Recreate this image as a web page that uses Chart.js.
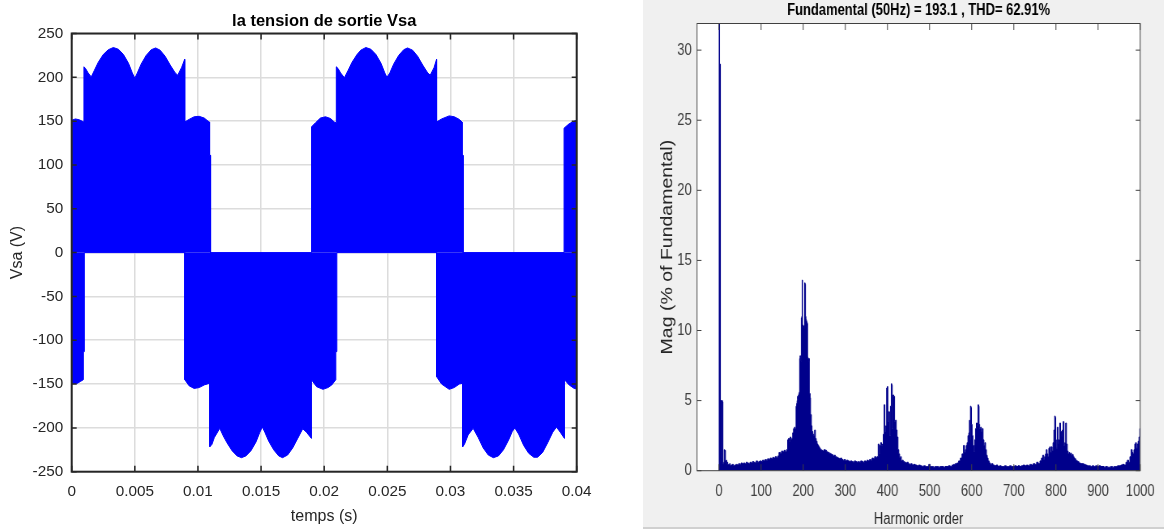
<!DOCTYPE html>
<html><head><meta charset="utf-8">
<script src="https://cdn.jsdelivr.net/npm/chart.js@4.4.1/dist/chart.umd.min.js"></script>
<style>
html,body{margin:0;padding:0;background:#fff;width:1164px;height:529px;overflow:hidden;}
#c1{position:absolute;left:0;top:0;}
#wrap2{position:absolute;left:643px;top:0;width:521px;height:529px;background:#f0f0f0;overflow:hidden;}
#c2{position:absolute;left:0;top:0;transform:scaleX(0.81);transform-origin:0 0;}
</style></head><body>
<canvas id="c1" width="620" height="529"></canvas>
<div id="wrap2"><canvas id="c2" width="643" height="529"></canvas></div>
<script>
// ---------- Left chart data: output voltage Vsa envelope ----------
const timeTicks = [0, 0.005, 0.01, 0.015, 0.02, 0.025, 0.03, 0.035, 0.04];
const timeTickLabels = ['0', '0.005', '0.01', '0.015', '0.02', '0.025', '0.03', '0.035', '0.04'];
const voltTicks = [-250, -200, -150, -100, -50, 0, 50, 100, 150, 200, 250];

// upper (positive) envelope
const tUp = [
  0, 0.0003, 0.0006, 0.00097, 0.00097, 0.0011, 0.0013, 0.00155, 0.0018, 0.0021,
  0.0025, 0.0029, 0.0033, 0.0037, 0.0041, 0.0045, 0.0048, 0.0050, 0.0052, 0.0055,
  0.0059, 0.0063, 0.00665, 0.0070, 0.0074, 0.0078, 0.0082, 0.0084, 0.0087, 0.00895,
  0.00895, 0.0093, 0.0097, 0.0101, 0.0105, 0.0108, 0.01092, 0.01092, 0.0110, 0.0110,
  0.0190, 0.0190, 0.0193, 0.0197, 0.0201, 0.0205, 0.0208, 0.02096, 0.02096, 0.0211,
  0.0213, 0.0216, 0.0219, 0.0222, 0.0226, 0.0229, 0.0233, 0.0237, 0.0241, 0.0245,
  0.0248, 0.02497, 0.0252, 0.0255, 0.0259, 0.0263, 0.0266, 0.0270, 0.0274, 0.0278,
  0.0282, 0.0284, 0.0287, 0.0289, 0.0289, 0.0293, 0.0299, 0.0303, 0.0307, 0.03092,
  0.03092, 0.0310, 0.0310, 0.0390, 0.0390, 0.0394, 0.0398, 0.0400
];
const vUp = [
  151, 152.5, 151.5, 149, 212, 210, 205, 200.5, 208, 217,
  226, 231.5, 234, 232, 226, 216, 205, 199, 205, 215,
  225, 231.5, 233.5, 231, 224, 214, 205, 202.5, 211, 220.5,
  149, 152, 155, 155.5, 153.5, 150, 149, 111, 111, 0,
  0, 143.5, 148, 153.5, 155, 153, 149, 148, 212, 210,
  205, 199.5, 208, 217, 226, 231, 234, 232, 226, 216,
  205, 200, 205, 215, 225, 231.5, 233.5, 231, 224, 214,
  205, 202.5, 211, 220.5, 149, 152.5, 156, 155, 152, 149,
  111, 111, 0, 0, 142, 147, 150, 151
];
// lower (negative) envelope
const tLo = [
  0, 0.0004, 0.0007, 0.00092, 0.00092, 0.0010, 0.0010, 0.00896, 0.00896, 0.0093,
  0.0097, 0.0101, 0.0105, 0.01094, 0.01094, 0.0111, 0.0113, 0.01173, 0.0120, 0.0123,
  0.0127, 0.0131, 0.01345, 0.0138, 0.0142, 0.0146, 0.0149, 0.0151, 0.0153, 0.0156,
  0.0160, 0.0164, 0.0167, 0.0171, 0.0175, 0.0179, 0.0183, 0.0186, 0.01899, 0.01899,
  0.0194, 0.0199, 0.0203, 0.0206, 0.02092, 0.02092, 0.0210, 0.0210, 0.0289, 0.0289,
  0.0293, 0.0299, 0.0303, 0.0307, 0.03097, 0.03097, 0.0311, 0.0314, 0.0318, 0.0322,
  0.0326, 0.0330, 0.0334, 0.0338, 0.0342, 0.0346, 0.0349, 0.0351, 0.0354, 0.0358,
  0.0362, 0.0366, 0.0369, 0.0373, 0.0377, 0.0381, 0.0384, 0.0387, 0.03903, 0.03903,
  0.0394, 0.0398, 0.0400
];
const vLo = [
  -149, -149.5, -147, -145, -113, -113, 0, 0, -145, -152,
  -155, -154, -151, -149, -221.5, -219, -211, -200.5, -209, -217,
  -226, -232, -234, -232, -226, -216, -205, -199, -205, -215,
  -225, -232, -234, -231, -223, -212, -201, -205, -212, -145,
  -153, -156, -154, -151, -145, -113, -113, 0, 0, -141.5,
  -150, -156, -154, -150, -149, -221.5, -219, -208, -200.5, -211,
  -223, -231, -234, -232, -225, -214, -204, -200, -207, -220,
  -229, -233.5, -233.5, -228, -217, -205, -199, -205, -212, -145,
  -151, -155, -155.5
];

// ---------- Right chart data: harmonic spectrum (% of fundamental) ----------
const harmonicTicks = [0, 100, 200, 300, 400, 500, 600, 700, 800, 900, 1000];
const magTicks = [0, 5, 10, 15, 20, 25, 30];
const harmonicOrder = [
  0,1,2,3,4,5,6,7,8,9,
  10,11,12,13,14,15,16,17,18,19,
  20,22,24,26,28,30,33,36,39,42,
  45,48,51,54,57,60,63,66,69,72,
  75,78,81,84,87,90,93,96,99,102,
  105,108,111,114,117,120,123,126,129,132,
  135,138,141,144,147,150,153,156,159,162,
  164,166,168,170,172,174,176,178,180,182,
  184,185,186,187,188,189,190,191,192,193,
  194,195,196,197,198,199,200,201,202,203,
  204,205,206,207,208,209,210,211,212,213,
  214,215,216,217,218,219,220,222,224,226,
  228,230,232,234,236,238,240,242,245,248,
  251,254,257,260,263,266,269,272,275,278,
  281,284,287,290,293,296,299,302,305,308,
  311,314,317,320,323,326,329,332,335,338,
  341,344,347,350,353,356,359,362,365,368,
  371,374,377,379,381,383,385,387,389,391,
  393,395,397,399,400,402,404,406,408,410,
  411,412,414,416,418,420,422,424,426,428,
  430,432,434,436,439,442,445,448,451,454,
  457,460,464,468,472,476,480,484,488,492,
  496,500,503,507,511,515,519,523,527,531,
  535,539,543,547,551,555,559,563,567,571,
  575,579,582,584,586,588,590,592,594,595,
  596,598,599,600,602,604,606,608,610,612,
  614,616,617,618,620,622,624,626,628,630,
  632,634,636,638,640,643,646,649,652,656,
  660,664,668,672,676,680,684,688,692,696,
  700,704,708,712,716,720,724,728,732,736,
  740,744,748,752,756,760,764,767,770,772,
  774,776,778,780,782,784,786,788,790,792,
  794,796,798,799,800,802,804,806,808,810,
  812,814,816,818,820,822,824,826,828,830,
  832,834,836,838,840,842,844,846,848,850,
  853,856,860,864,868,872,876,880,884,888,
  892,896,900,904,908,912,916,920,924,928,
  932,936,940,944,948,952,956,960,964,968,
  971,974,977,980,982,984,986,988,990,992,
  994,996,998,1000
];
const magnitude = [
  0,100,0.6,29,0.9,5.0,5.0,4.9,5.0,4.9,
  0.5,0.4,0.6,1.5,1.4,1.45,0.7,0.6,0.75,0.5,
  0.6,0.45,0.4,0.5,0.35,0.4,0.45,0.35,0.4,0.45,
  0.4,0.5,0.45,0.55,0.5,0.55,0.5,0.6,0.55,0.5,
  0.6,0.55,0.65,0.6,0.55,0.7,0.6,0.65,0.7,0.65,
  0.75,0.7,0.8,0.75,0.85,0.8,0.9,0.85,0.95,0.9,
  1.0,0.95,1.05,1.3,1.25,1.4,1.35,1.45,1.35,1.5,
  2.2,2.3,2.1,2.4,2.2,2.3,2.7,3.0,3.1,3.0,
  4.6,4.8,5.0,5.3,5.1,5.4,5.5,5.6,8.0,8.2,
  8.1,7.8,10.9,11.0,13.6,10.4,10.2,10.3,10.1,10.4,
  13.4,13.3,11.0,10.8,10.7,10.6,10.5,8.1,8.0,7.8,
  8.0,5.4,5.5,5.2,3.9,4.0,3.2,2.8,2.6,2.5,
  2.9,2.3,2.1,1.9,1.8,1.7,1.6,1.5,1.45,1.4,
  1.5,1.45,1.35,1.3,1.25,1.2,1.15,1.05,1.1,1.0,
  0.95,0.9,0.85,0.9,0.8,0.75,0.8,0.7,0.75,0.7,
  0.65,0.7,0.65,0.6,0.7,0.65,0.6,0.65,0.6,0.7,
  0.65,0.6,0.7,0.65,0.75,0.7,0.8,0.75,0.9,0.85,
  1.0,0.95,1.0,1.9,1.2,1.8,2.0,1.8,1.9,2.6,
  4.7,2.8,3.2,5.9,6.0,3.5,4.2,2.5,4.6,6.2,
  6.1,3.0,5.4,5.3,3.5,3.6,2.9,2.4,1.5,1.2,
  0.9,1.0,0.7,0.75,0.65,0.6,0.55,0.6,0.5,0.45,
  0.5,0.4,0.45,0.4,0.35,0.4,0.35,0.3,0.35,0.3,
  0.3,0.45,0.3,0.3,0.25,0.3,0.3,0.25,0.3,0.3,
  0.25,0.3,0.3,0.35,0.3,0.4,0.45,0.5,0.55,0.7,
  0.9,1.2,1.8,1.3,1.5,1.8,2.0,2.5,2.7,3.6,
  2.2,4.6,4.5,3.3,2.5,1.8,1.35,2.2,3.0,3.4,
  3.2,4.7,4.6,3.3,3.0,3.1,2.8,3.0,2.2,1.8,
  2.0,1.5,1.1,0.9,0.7,0.55,0.45,0.5,0.4,0.35,
  0.4,0.3,0.35,0.3,0.3,0.35,0.3,0.3,0.35,0.3,
  0.3,0.35,0.3,0.35,0.3,0.35,0.4,0.35,0.4,0.35,
  0.45,0.4,0.5,0.45,0.6,0.5,0.7,0.9,1.1,0.8,
  1.0,1.2,1.5,1.2,1.0,1.6,1.7,1.3,1.7,1.4,
  2.0,2.9,3.9,3.8,2.2,1.6,3.1,1.9,2.2,3.4,
  2.8,2.4,2.9,3.5,1.8,2.0,3.4,1.9,1.4,1.2,
  1.3,1.2,1.25,1.1,1.15,1.0,0.9,0.85,0.75,0.7,
  0.65,0.55,0.5,0.5,0.45,0.4,0.35,0.35,0.3,0.35,
  0.3,0.35,0.3,0.35,0.3,0.3,0.25,0.3,0.25,0.25,
  0.3,0.25,0.3,0.3,0.35,0.35,0.4,0.45,0.4,0.6,
  0.75,0.6,1.0,1.5,1.3,1.2,1.5,1.9,2.0,1.6,
  1.9,2.1,2.4,3.0
];

const FONT = "'Liberation Sans', Arial, Helvetica, sans-serif";

// frame / ticks / labels plugin
const framePlugin = {
  id: 'frame',
  beforeDraw(chart, _a, o) {
    if (!o.plotBg) return;
    const {ctx, chartArea: a} = chart;
    ctx.save();
    ctx.fillStyle = o.plotBg;
    ctx.fillRect(a.left, a.top, a.right - a.left, a.bottom - a.top);
    ctx.restore();
  },
  afterDraw(chart, _a, o) {
    const {ctx, chartArea: a, scales: {x, y}} = chart;
    ctx.save();
    ctx.strokeStyle = o.color;
    ctx.lineWidth = o.tickWidth;
    ctx.beginPath();
    for (const t of x.ticks) {
      const p = x.getPixelForValue(t.value);
      ctx.moveTo(p, a.bottom); ctx.lineTo(p, a.bottom - o.tickLenX);
      ctx.moveTo(p, a.top); ctx.lineTo(p, a.top + o.tickLenX);
    }
    for (const t of y.ticks) {
      const p = y.getPixelForValue(t.value);
      ctx.moveTo(a.left, p); ctx.lineTo(a.left + o.tickLenY, p);
      ctx.moveTo(a.right, p); ctx.lineTo(a.right - o.tickLenY, p);
    }
    ctx.stroke();
    ctx.lineWidth = o.lineWidth;
    ctx.strokeRect(a.left, a.top, a.right - a.left, a.bottom - a.top);
    const cx = (a.left + a.right) / 2;
    ctx.textAlign = 'center';
    ctx.textBaseline = 'alphabetic';
    ctx.fillStyle = o.titleColor;
    ctx.font = o.titleFont;
    ctx.fillText(o.title, cx, o.titleY);
    ctx.fillStyle = o.labelColor;
    ctx.font = o.labelFont;
    ctx.fillText(o.xLabel, cx, o.xLabelY);
    ctx.save();
    ctx.translate(o.yLabelX, (a.top + a.bottom) / 2);
    ctx.rotate(-Math.PI / 2);
    ctx.textBaseline = 'middle';
    ctx.font = o.yLabelFont || o.labelFont;
    ctx.fillText(o.yLabel, 0, 0);
    ctx.restore();
    if (o.bottomLine) {
      ctx.fillStyle = o.bottomLine;
      ctx.fillRect(0, chart.height - 1.5, chart.width, 1);
    }
    ctx.restore();
  }
};

// ---------- Left chart ----------
new Chart(document.getElementById('c1'), {
  type: 'line',
  data: {
    datasets: [
      { data: tUp.map((t, i) => ({x: t, y: vUp[i]})), fill: 'origin',
        borderColor: '#0000ff', backgroundColor: '#0000ff', borderWidth: 1, pointRadius: 0, tension: 0 },
      { data: tLo.map((t, i) => ({x: t, y: vLo[i]})), fill: 'origin',
        borderColor: '#0000ff', backgroundColor: '#0000ff', borderWidth: 1, pointRadius: 0, tension: 0 }
    ]
  },
  options: {
    responsive: false, animation: false, events: [],
    layout: { padding: { top: 33.5, right: 43.3, left: 0, bottom: 0 } },
    plugins: {
      legend: { display: false }, tooltip: { enabled: false },
      frame: {
        color: '#262626', lineWidth: 2, tickWidth: 1.5, tickLenX: 6, tickLenY: 5,
        title: 'la tension de sortie Vsa', titleFont: `bold 16.5px ${FONT}`, titleColor: '#000', titleY: 26.3,
        xLabel: 'temps (s)', yLabel: 'Vsa (V)', labelFont: `16px ${FONT}`, labelColor: '#262626',
        xLabelY: 521, yLabelX: 18
      }
    },
    scales: {
      x: {
        type: 'linear', min: 0, max: 0.04,
        afterBuildTicks: s => { s.ticks = timeTicks.map(v => ({value: v})); },
        afterFit: s => { s.height = 57.3; },
        ticks: { callback: (v, i) => timeTickLabels[i], font: {family: FONT, size: 15.3}, color: '#262626',
                 padding: 11, maxRotation: 0, autoSkip: false },
        grid: { color: '#dcdcdc', lineWidth: 1.5, drawTicks: false },
        border: { display: false }
      },
      y: {
        type: 'linear', min: -250, max: 250,
        afterBuildTicks: s => { s.ticks = voltTicks.map(v => ({value: v})); },
        afterFit: s => { s.width = 71.7; },
        ticks: { callback: v => String(v), font: {family: FONT, size: 15.3}, color: '#262626', padding: 8.5, autoSkip: false },
        grid: { color: '#dcdcdc', lineWidth: 1.5, drawTicks: false },
        border: { display: false }
      }
    }
  },
  plugins: [framePlugin]
});

// ---------- Right chart ----------
new Chart(document.getElementById('c2'), {
  type: 'line',
  data: {
    datasets: [
      { data: harmonicOrder.map((h, i) => ({x: h, y: magnitude[i]})), stepped: 'middle', fill: 'origin',
        borderColor: '#00008b', backgroundColor: '#00008b', borderWidth: 1, pointRadius: 0 }
    ]
  },
  options: {
    responsive: false, animation: false, events: [],
    layout: { padding: { top: 23.5, right: 24.1, left: 0, bottom: 0 } },
    plugins: {
      legend: { display: false }, tooltip: { enabled: false },
      frame: {
        plotBg: '#ffffff', color: '#404040', lineWidth: 1, tickWidth: 1, tickLenX: 6.5, tickLenY: 5.5,
        title: 'Fundamental (50Hz) = 193.1 , THD= 62.91%', titleFont: `bold 16px ${FONT}`, titleColor: '#000', titleY: 15,
        xLabel: 'Harmonic order', yLabel: 'Mag (% of Fundamental)', labelFont: `16px ${FONT}`, labelColor: '#262626',
        yLabelFont: `19.5px ${FONT}`,
        xLabelY: 524, yLabelX: 31, bottomLine: '#b0b0b0'
      }
    },
    scales: {
      x: {
        type: 'linear', min: -52, max: 1000,
        afterBuildTicks: s => { s.ticks = harmonicTicks.map(v => ({value: v})); },
        afterFit: s => { s.height = 58.3; },
        ticks: { callback: v => String(v), font: {family: FONT, size: 16}, color: '#404040',
                 padding: 11.4, maxRotation: 0, autoSkip: false },
        grid: { display: false, drawTicks: false }, border: { display: false }
      },
      y: {
        type: 'linear', min: 0, max: 31.9,
        afterBuildTicks: s => { s.ticks = magTicks.map(v => ({value: v})); },
        afterFit: s => { s.width = 66.7; },
        ticks: { callback: v => String(v), font: {family: FONT, size: 16}, color: '#404040', padding: 6.6, autoSkip: false },
        grid: { display: false, drawTicks: false }, border: { display: false }
      }
    }
  },
  plugins: [framePlugin]
});
</script></body></html>
